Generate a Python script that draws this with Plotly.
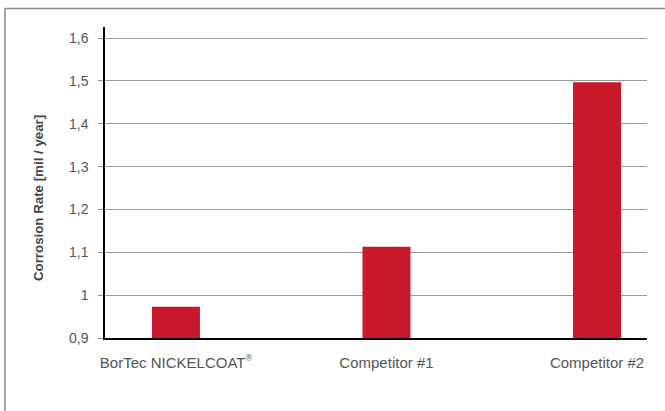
import plotly.graph_objects as go

categories = ["BorTec NICKELCOAT<sup><span style='font-size:9px'>®</span></sup>", "Competitor #1", "Competitor #2"]
corrosion_rate = [0.973, 1.113, 1.497]
y_tick_vals = [0.9, 1.0, 1.1, 1.2, 1.3, 1.4, 1.5, 1.6]
y_tick_text = ["0,9", "1", "1,1", "1,2", "1,3", "1,4", "1,5", "1,6"]
y_title = "Corrosion Rate [mil / year]"

fig = go.Figure()
fig.add_trace(go.Bar(
    x=list(range(len(categories))),
    y=[v - 0.9 for v in corrosion_rate],
    base=0.9,
    width=0.228,
    marker=dict(color="#C8192C", line=dict(width=0)),
    hoverinfo="skip",
))

fig.update_layout(
    width=665, height=411,
    margin=dict(l=105, r=18, t=27, b=73),
    paper_bgcolor="white",
    plot_bgcolor="white",
    showlegend=False,
    font=dict(family="Liberation Sans, Arial, sans-serif", color="#555"),
    xaxis=dict(
        range=[-0.337, 2.2375],
        tickmode="array",
        tickvals=list(range(len(categories))),
        ticktext=categories,
        showgrid=False,
        zeroline=False,
        showline=True, linecolor="black", linewidth=1.5,
        ticks="", ticklabelstandoff=10,
        tickfont=dict(size=15, color="#555"),
    ),
    yaxis=dict(
        range=[0.9, 1.626],
        tickmode="array",
        tickvals=y_tick_vals,
        ticktext=y_tick_text,
        showgrid=True, gridcolor="#9a9a9a", gridwidth=1,
        zeroline=False,
        showline=True, linecolor="black", linewidth=1.5,
        ticks="outside", ticklen=5, tickcolor="#9a9a9a",
        ticklabelstandoff=7,
        tickfont=dict(size=14, color="#555"),
    ),
    annotations=[dict(
        text="<b>" + y_title + "</b>", textangle=-90,
        xref="paper", yref="paper", x=-0.1236, y=0.45,
        xanchor="center", yanchor="middle", showarrow=False,
        font=dict(size=13.3, color="#444"),
    )],
    shapes=[dict(
        type="rect", xref="paper", yref="paper",
        x0=-0.1845, x1=2.0, y0=-1.0, y1=1.0595,
        line=dict(color="#888", width=1.5), fillcolor="rgba(0,0,0,0)",
        layer="below",
    )],
)

fig.write_html("out.html")
